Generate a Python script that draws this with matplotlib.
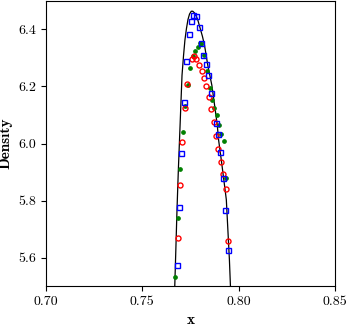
import numpy as np
import matplotlib
matplotlib.use("Agg")
import matplotlib.pyplot as plt

plt.rcParams['font.family'] = 'cmr10'
plt.rcParams['mathtext.fontset'] = 'cm'
plt.rcParams['axes.unicode_minus'] = False
plt.rcParams['axes.formatter.use_mathtext'] = True

# reference curve (black line)
curve_x = [0.7668, 0.7674, 0.7680, 0.7687, 0.7695, 0.7701, 0.7706, 0.7714,
           0.7721, 0.7729, 0.7737, 0.7745, 0.7754, 0.7762, 0.7771, 0.7780,
           0.7789, 0.7799, 0.7812, 0.7823, 0.7840, 0.7861, 0.7875, 0.7889,
           0.7896, 0.7910, 0.7923, 0.7936, 0.7944, 0.7952, 0.7958]
curve_rho = [5.490, 5.628, 5.768, 5.907, 6.047, 6.152, 6.239, 6.309,
             6.362, 6.403, 6.435, 6.454, 6.464, 6.464, 6.458, 6.447,
             6.431, 6.407, 6.376, 6.344, 6.274, 6.204, 6.135, 6.065,
             6.012, 5.942, 5.873, 5.803, 5.698, 5.593, 5.490]

# red circles
red_x = [0.7767, 0.7781, 0.7757, 0.7795, 0.7808, 0.7820, 0.7733, 0.7832,
         0.7845, 0.7721, 0.7858, 0.7870, 0.7881, 0.7705, 0.7894, 0.7907,
         0.7919, 0.7933, 0.7695, 0.7683, 0.7945]
red_rho = [6.306, 6.295, 6.296, 6.275, 6.254, 6.230, 6.210, 6.202,
           6.164, 6.125, 6.121, 6.074, 6.026, 6.006, 5.981, 5.935,
           5.892, 5.842, 5.855, 5.669, 5.659]

# blue squares
blue_x = [0.7764, 0.7780, 0.7755, 0.7792, 0.7742, 0.7806, 0.7814, 0.7729,
          0.7828, 0.7842, 0.7717, 0.7854, 0.7881, 0.7893, 0.7703, 0.7905,
          0.7917, 0.7691, 0.7931, 0.7681, 0.7943]
blue_rho = [6.452, 6.448, 6.430, 6.409, 6.383, 6.352, 6.309, 6.288,
            6.280, 6.239, 6.144, 6.177, 6.073, 6.032, 5.968, 5.971,
            5.879, 5.778, 5.767, 5.572, 5.627]

# green dots
green_x = [0.7797, 0.7787, 0.7773, 0.7762, 0.7822, 0.7745, 0.7735, 0.7835,
           0.7849, 0.7860, 0.7874, 0.7886, 0.7898, 0.7910, 0.7922, 0.7710,
           0.7723, 0.7697, 0.7686, 0.7672, 0.7936, 0.7806]
green_rho = [6.352, 6.340, 6.326, 6.307, 6.309, 6.266, 6.204, 6.253,
             6.196, 6.152, 6.126, 6.100, 6.065, 6.034, 6.009, 6.040,
             6.131, 5.912, 5.740, 5.531, 5.878, 6.350]

fig = plt.figure(figsize=(3.49, 3.28), dpi=100)
ax = fig.add_axes([0.1318, 0.128, 0.828, 0.869])

ax.plot(curve_x, curve_rho, color='black', lw=0.9)
ax.plot(green_x, green_rho, 'o', color='green', ms=2.4, mec='green')
ax.plot(red_x, red_rho, 'o', mfc='none', mec='red', ms=3.6, mew=1.0)
ax.plot(blue_x, blue_rho, 's', mfc='none', mec='blue', ms=3.6, mew=1.0)

ax.set_xlim(0.70, 0.85)
ax.set_ylim(5.5, 6.5)
ax.set_xticks([0.70, 0.75, 0.80, 0.85])
ax.set_yticks([5.6, 5.8, 6.0, 6.2, 6.4])
ax.set_xticklabels(['0.70', '0.75', '0.80', '0.85'])
ax.set_yticklabels(['5.6', '5.8', '6.0', '6.2', '6.4'])
ax.tick_params(labelsize=10)
ax.set_xlabel('x', fontfamily='cmb10', fontsize=11)
ax.set_ylabel('Density', fontfamily='cmb10', fontsize=11)

fig.savefig('out.png', dpi=100)
